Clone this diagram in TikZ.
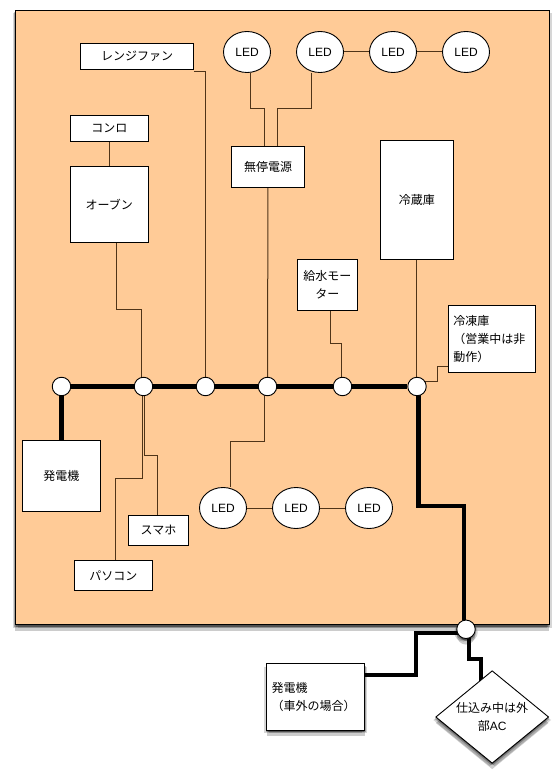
\documentclass[tikz,border=0pt]{standalone}
\usepackage{xcolor}
\usepackage{fontspec}
\setmainfont{Liberation Sans}
\newfontfamily\cjk{Noto Sans CJK JP}
\definecolor{cPanel}{HTML}{FFCB97}
\definecolor{cWire}{HTML}{4F3418}
\usetikzlibrary{positioning,shapes.geometric,shadows,backgrounds}
\tikzset{
  node-box/.style={draw=black,fill=white,line width=0.9pt,inner sep=0pt,align=center,
    font=\cjk\fontsize{12}{18}\selectfont},
  node-note/.style={node-box,align=left,text width=#1},
  node-led/.style={draw=black,fill=white,line width=0.9pt,ellipse,inner sep=0pt,
    minimum width=47pt,minimum height=41pt,font=\fontsize{12}{18}\selectfont},
  node-joint/.style={draw=black,fill=white,line width=0.9pt,circle,inner sep=0pt,minimum size=18.5pt},
  node-ac/.style={node-box,diamond,aspect=1.22,minimum width=113pt,minimum height=92.6pt},
  soft-shadow/.style={
    drop shadow={shadow xshift=-2.5pt,shadow yshift=-3pt,opacity=.16,fill=black},
    drop shadow={shadow xshift=2.5pt,shadow yshift=-3pt,opacity=.16,fill=black},
    drop shadow={shadow xshift=0pt,shadow yshift=-6pt,opacity=.2,fill=black},
    drop shadow={shadow xshift=-1pt,shadow yshift=-2pt,opacity=.25,fill=black},
    drop shadow={shadow xshift=1pt,shadow yshift=-2pt,opacity=.25,fill=black}},
  wire/.style={line width=1pt,draw=cWire},
  wire-main/.style={line width=4.2pt,draw=black},
}
\begin{document}
\begin{tikzpicture}[x=1pt,y=-1pt]
  \useasboundingbox (0,0) rectangle (559,783);
  \begin{scope}[on background layer]
    \node[draw=black,fill=cPanel,line width=1pt,soft-shadow,inner sep=0pt,
      minimum width=534pt,minimum height=614.5pt] at (282,317.3) (Panel) {};
  \end{scope}
  % joints on the bus
  \foreach \name/\x in {JGen/61.5, JOven/143.5, JFan/205.5, JUps/267.5, JPump/342.5, JFridge/417} {
    \node[node-joint] at (\x,386.5) (\name) {};
  }
  \node[node-joint,soft-shadow] at (466,629.3) (JOut) {};
  % LED
  \foreach \name/\x/\y in {LedA/247/52, LedB/320/52, LedC/393/52, LedD/466/52,
                           LedE/223/508, LedF/296/508, LedG/369/508} {
    \node[node-led] at (\x,\y) (\name) {LED};
  }
  \node[node-box,minimum width=113pt,minimum height=26pt] at (137,56.5) (Fan) {レンジファン};
  \node[node-box,minimum width=78.5pt,minimum height=26pt] at (109.3,128.5) (Stove) {コンロ};
  \node[node-box,minimum width=78.5pt,minimum height=76.5pt] at (109.3,204.3) (Oven) {オーブン};
  \node[node-box,minimum width=73pt,minimum height=41pt] at (268,167) (Ups) {無停電源};
  \node[node-box,minimum width=73pt,minimum height=118.7pt] at (416.8,199.7) (Fridge) {冷蔵庫};
  \node[node-box,minimum width=59.8pt,minimum height=51pt] at (327.4,284.8) (Pump) {給水モー\\ター};
  \node[node-note=77.4pt,minimum width=87.4pt,minimum height=66.7pt] at (492,338.7) (Freezer)
    {冷凍庫\\（営業中は非\\動作）};
  \node[node-box,minimum width=78.2pt,minimum height=71.4pt] at (61.4,476) (Gen) {発電機};
  \node[node-box,minimum width=60pt,minimum height=30pt] at (158.5,530.3) (Phone) {スマホ};
  \node[node-box,minimum width=78.2pt,minimum height=30pt] at (113.4,575.3) (Pc) {パソコン};
  \node[node-note=88pt,soft-shadow,minimum width=98pt,minimum height=66.6pt] at (315.7,697) (GenOut)
    {発電機\\（車外の場合）};
  \node[node-ac,soft-shadow] at (492.2,717) (Ac) {仕込み中は外\\部{\rmfamily AC}};
  \begin{scope}[on background layer]
    \draw[wire] (Stove) -- (Oven);
    \draw[wire] ([xshift=7.2pt]Oven.south) |- (141.5,309.5) -- ([xshift=-2pt]JOven.center);
    \draw[wire] ([yshift=-1.5pt]Fan.south east) -| (JFan);
    \draw[wire] (Ups) -- (JUps);
    \draw[wire] ([xshift=3.5pt]LedA.south) |- (264.3,108.7) -- ([xshift=-3.7pt]Ups.north);
    \draw[wire] ([xshift=-8.7pt]LedB.south) |- (277,108.3) -- ([xshift=9pt]Ups.north);
    \draw[wire] (LedB) -- (LedC);
    \draw[wire] (LedC) -- (LedD);
    \draw[wire] (Fridge.south) -- (Fridge.south |- JFridge.center);
    \draw[wire] ([xshift=3.3pt]Pump.south) |- (341,343.3) -- ([xshift=-1.5pt]JPump.center);
    \draw[wire] ([yshift=6pt]Freezer.south west) -| (437.7,381) -- ([yshift=5.5pt]JFridge.center);
    \draw[wire] ([xshift=-1.5pt]JOven.center) |- (115.7,478) -- ([xshift=2.3pt]Pc.north);
    \draw[wire] ([xshift=0.8pt]JOven.center) |- (157,455.3) -- ([xshift=-1.5pt]Phone.north);
    \draw[wire] ([xshift=-2.8pt]JUps.center) |- (230,441.7) -- ([xshift=7pt]LedE.north);
    \draw[wire] (LedE) -- (LedF);
    \draw[wire] (LedF) -- (LedG);
    \draw[wire-main] (JGen) -- (JOven);
    \draw[wire-main] (JOven) -- (JFan);
    \draw[wire-main] (JFan) -- (JUps);
    \draw[wire-main] (JUps) -- (JPump);
    \draw[wire-main] (JPump) -- (JFridge);
    \draw[wire-main] (JGen) -- (Gen.north -| JGen);
    \draw[wire-main] ([xshift=1.4pt]JFridge.center) |- (464,506.3) -- ([xshift=-2pt]JOut.center);
  \end{scope}
  % outside of the panel
  \begin{scope}[on background layer]
    \draw[wire-main] ([yshift=-4pt]JOut.center) -| (415.7,674.7) -- (GenOut.east |- 0,674.7);
    \draw[wire-main] ([xshift=3pt]JOut.center) |- (481,658.7) -- ([xshift=-11.2pt,yshift=-10.3pt]Ac.north);
  \end{scope}
\end{tikzpicture}
\end{document}
